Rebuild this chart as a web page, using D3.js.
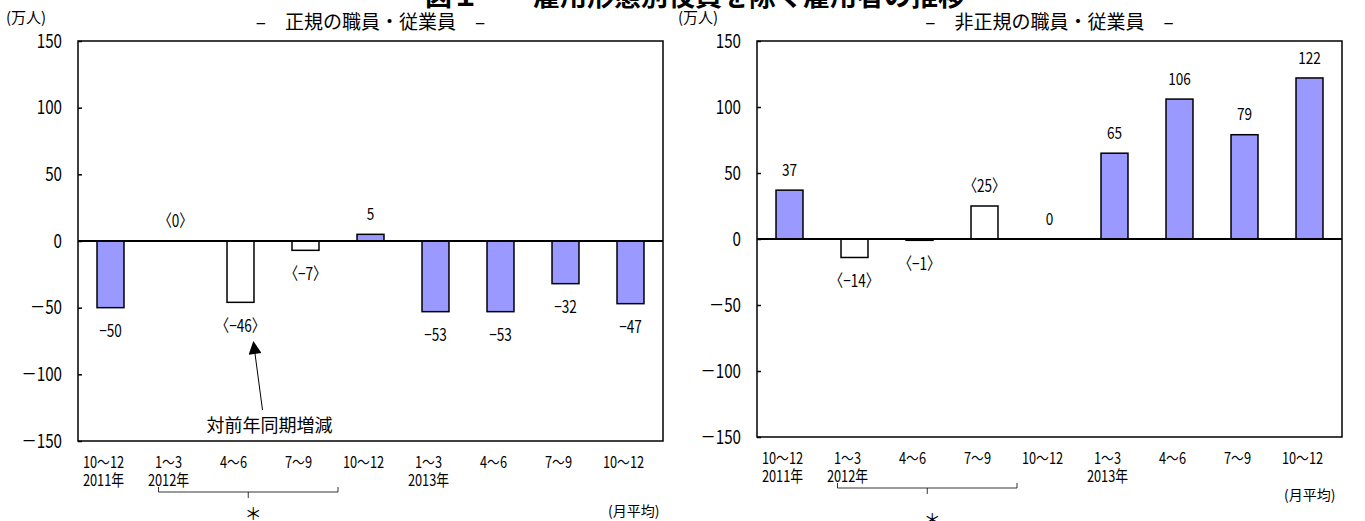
<!DOCTYPE html>
<html>
<head>
<meta charset="utf-8">
<script src="https://cdn.jsdelivr.net/npm/d3@7"></script>
<style>
  html, body { margin: 0; padding: 0; background: #fff; }
  svg text { font-family: "Noto Sans CJK JP", "Noto Sans", sans-serif; fill: #000; }
</style>
</head>
<body>
<svg id="chart" width="1365" height="521"></svg>
<script>
// Quarter labels along the x axis
const categories = ["10～12", "1～3", "4～6", "7～9", "10～12", "1～3", "4～6", "7～9", "10～12"];
const yearLabels = ["2011年", "2012年", "", "", "", "2013年", "", "", ""];
// Year-on-year change, 10,000 persons (monthly average)
const regularValues = [-50, 0, -46, -7, 5, -53, -53, -32, -47];
const nonRegularValues = [37, -14, -1, 25, 0, 65, 106, 79, 122];
// Quarters shown as bracketed values
const regularBracketed = [false, true, true, true, false, false, false, false, false];
const nonRegularBracketed = [false, true, true, true, false, false, false, false, false];
const yTicks = [-150, -100, -50, 0, 50, 100, 150];

const SX = 0.8; // horizontal squeeze for the narrow numeric lettering
const svg = d3.select("#chart");
const minus = v => String(v).replace("-", "−");

// place a horizontally condensed text at (x, y)
function narrow(sel, fx, fy) {
  return sel.attr("x", 0).attr("y", 0)
    .attr("transform", (d, i) => `translate(${fx(d, i)},${fy(d, i)}) scale(${SX},1)`);
}

// Main heading (runs off the top edge)
svg.append("text")
  .attr("x", 695).attr("y", 6)
  .attr("text-anchor", "middle")
  .style("font-size", "27px").style("font-weight", "bold")
  .text("図１　　雇用形態別役員を除く雇用者の推移");

function panel(opt) {
  const g = svg.append("g");
  const x = d3.scaleBand().domain(d3.range(categories.length))
    .range([opt.x0, opt.x1]).paddingInner(0.585).paddingOuter(0.2925);
  const y = d3.scaleLinear().domain([-150, 150]).range([opt.yBot, opt.yTop]);
  const cx = i => x(i) + x.bandwidth() / 2;

  // unit and panel title
  g.append("text").attr("x", opt.unitX).attr("y", 23)
    .style("font-size", "15px").text("(万人)");
  g.append("text").attr("x", (opt.x0 + opt.x1) / 2).attr("y", 29)
    .attr("text-anchor", "middle").style("font-size", "19px")
    .text(opt.title);

  // y axis with inward ticks
  const axis = d3.axisLeft(y).tickValues(yTicks).tickSize(-4).tickPadding(16)
    .tickFormat(d => String(d).replace("-", "－"));
  const ax = g.append("g").attr("transform", `translate(${opt.x0},0)`).call(axis);
  ax.select(".domain").remove();
  ax.selectAll(".tick line").attr("stroke", "#000").attr("stroke-width", 1.5);
  ax.selectAll(".tick text")
    .attr("font-family", null)
    .style("font-size", "19px")
    .attr("x", -16 / SX)
    .attr("transform", `scale(${SX},1)`);

  // bars
  g.selectAll("rect.bar").data(opt.values).join("rect")
    .attr("class", "bar")
    .attr("x", (d, i) => x(i))
    .attr("width", x.bandwidth())
    .attr("y", d => y(Math.max(0, d)))
    .attr("height", d => Math.abs(y(d) - y(0)))
    .attr("fill", (d, i) => opt.bracketed[i] ? "#ffffff" : "#9999ff")
    .attr("stroke", "#000").attr("stroke-width", 1.5)
    .style("display", d => d === 0 ? "none" : null);

  // zero line
  g.append("line").attr("x1", opt.x0).attr("x2", opt.x1)
    .attr("y1", y(0)).attr("y2", y(0))
    .attr("stroke", "#000").attr("stroke-width", 2);

  // plot frame
  g.append("rect").attr("x", opt.x0).attr("y", opt.yTop)
    .attr("width", opt.x1 - opt.x0).attr("height", opt.yBot - opt.yTop)
    .attr("fill", "none").attr("stroke", "#000").attr("stroke-width", 1.5);

  // value labels
  const vals = g.selectAll("text.val").data(opt.values).join("text")
    .attr("class", "val")
    .attr("text-anchor", "middle").attr("dominant-baseline", "central")
    .style("font-size", "17px")
    .text((d, i) => opt.bracketed[i] ? `〈${minus(d)}〉` : minus(d));
  narrow(vals, (d, i) => cx(i), d => d >= 0 ? y(d) - 22 : y(d) + 22);

  // category and year labels
  const cats = g.selectAll("text.cat").data(categories).join("text")
    .attr("class", "cat").attr("text-anchor", "middle").attr("dominant-baseline", "central")
    .style("font-size", "16px").text(d => d);
  narrow(cats, (d, i) => cx(i) - 7, () => opt.yBot + 20);
  const yrs = g.selectAll("text.yr").data(yearLabels).join("text")
    .attr("class", "yr").attr("text-anchor", "middle").attr("dominant-baseline", "central")
    .style("font-size", "16px").text(d => d);
  narrow(yrs, (d, i) => cx(i) - 7, () => opt.yBot + 38);

  // bracket spanning the bracketed quarters
  const bx0 = cx(1) - 17, bx1 = cx(3) + x.step() / 2, by = opt.yBot + opt.bracketDy;
  const bm = (bx0 + bx1) / 2;
  g.append("path")
    .attr("d", `M${bx0},${by - 5}V${by}H${bx1}V${by - 5}M${bm},${by}V${by + 6}`)
    .attr("fill", "none").attr("stroke", "#000").attr("stroke-width", 0.8);
  g.append("text").attr("x", bm + 5).attr("y", by + opt.starDy)
    .attr("text-anchor", "middle").attr("dominant-baseline", "central")
    .style("font-size", "17px").text("＊");
  g.append("text").attr("x", opt.avgX).attr("y", opt.avgY)
    .attr("dominant-baseline", "central")
    .style("font-size", "14px").text("(月平均)");

  return { x, y, cx };
}

const left = panel({
  x0: 78, x1: 663, yTop: 41, yBot: 441,
  values: regularValues, bracketed: regularBracketed,
  title: "–　正規の職員・従業員　–", unitX: 6,
  bracketDy: 51, starDy: 20, avgX: 608, avgY: 510
});

panel({
  x0: 757, x1: 1342, yTop: 41, yBot: 437,
  values: nonRegularValues, bracketed: nonRegularBracketed,
  title: "–　非正規の職員・従業員　–", unitX: 678,
  bracketDy: 51, starDy: 30, avgX: 1284, avgY: 494
});

// annotation arrow pointing at the bracketed bar
const ax0 = left.cx(2) + 22, ay0 = 410, tx = left.cx(2) + 13, ty = left.y(-46) + 40;
svg.append("defs").append("marker").attr("id", "head")
  .attr("viewBox", "0 0 10 10").attr("refX", 9).attr("refY", 5)
  .attr("markerWidth", 16).attr("markerHeight", 13).attr("markerUnits", "userSpaceOnUse")
  .attr("orient", "auto")
  .append("path").attr("d", "M0,0L10,5L0,10Z").attr("fill", "#000");
svg.append("line").attr("x1", ax0).attr("y1", ay0).attr("x2", tx).attr("y2", ty)
  .attr("stroke", "#000").attr("stroke-width", 1).attr("marker-end", "url(#head)");
svg.append("text").attr("x", ax0 + 7).attr("y", 424)
  .attr("text-anchor", "middle").attr("dominant-baseline", "central")
  .style("font-size", "18px").text("対前年同期増減");
</script>
</body>
</html>
